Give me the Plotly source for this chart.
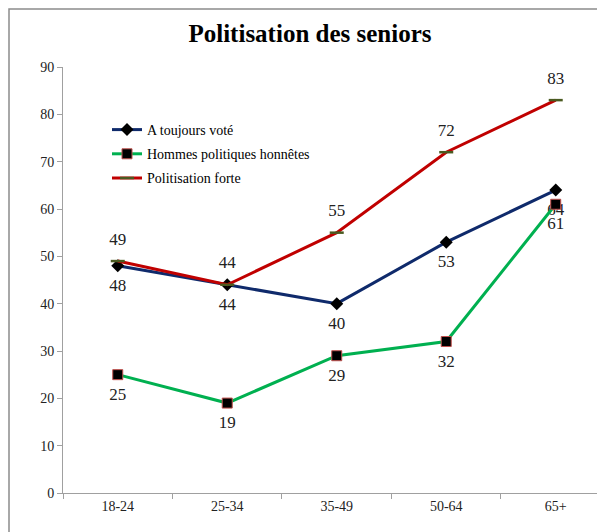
import plotly.graph_objects as go

categories = ["18-24", "25-34", "35-49", "50-64", "65+"]
toujours_vote = [48, 44, 40, 53, 64]
hommes_honnetes = [25, 19, 29, 32, 61]
politisation_forte = [49, 44, 55, 72, 83]
y_ticks = [0, 10, 20, 30, 40, 50, 60, 70, 80, 90]

SERIF = "Liberation Serif"

# The page has a default 8px body margin; size the figure to fit the window.
W, H = 597, 524
ML, MT, MB, MR = 55, 59, 39, 0
PW = W - ML - MR
PH = H - MT - MB

fig = go.Figure()

# Value labels (drawn first so the markers sit on top of them)
label_font = dict(family=SERIF, size=17, color="#222222")
for vals, pos in [(toujours_vote, "bottom center"),
                  (hommes_honnetes, "bottom center"),
                  (politisation_forte, "top center")]:
    fig.add_trace(go.Scatter(
        x=categories, y=vals, mode="markers+text", text=[str(v) for v in vals],
        textposition=pos, textfont=label_font,
        marker=dict(size=18, opacity=0), showlegend=False, hoverinfo="skip",
    ))

fig.add_trace(go.Scatter(
    x=categories, y=toujours_vote, name="A toujours voté",
    mode="lines+markers",
    line=dict(color="#0F2A6B", width=3),
    marker=dict(symbol="diamond", size=10, color="black"),
    legendgroup="a",
))
fig.add_trace(go.Scatter(
    x=categories, y=hommes_honnetes, name="Hommes politiques honnêtes",
    mode="lines+markers",
    line=dict(color="#00B050", width=3),
    marker=dict(symbol="square", size=10, color="black", line=dict(color="#C0504D", width=1)),
    legendgroup="b",
))
fig.add_trace(go.Scatter(
    x=categories, y=politisation_forte, name="Politisation forte",
    mode="lines+markers",
    line=dict(color="#C00000", width=3),
    marker=dict(symbol="line-ew", size=10, color="#4A5A20", line=dict(color="#4A5A20", width=2.5)),
    legendgroup="c",
))

fig.update_layout(
    width=W, height=H,
    margin=dict(l=ML, r=MR, t=MT, b=MB, autoexpand=False),
    paper_bgcolor="white", plot_bgcolor="white",
    title=dict(text="<b>Politisation des seniors</b>", x=(310 - 8) / W, xanchor="center",
               y=1 - 25 / H, yanchor="middle",
               font=dict(family=SERIF, size=25, color="black")),
    font=dict(family=SERIF, color="#222222"),
    showlegend=True,
    legend=dict(x=(107 - 63) / PW, y=1 - (47) / PH, xanchor="left", yanchor="top",
                bgcolor="rgba(0,0,0,0)", font=dict(family=SERIF, size=14, color="black"),
                tracegroupgap=3),
    xaxis=dict(
        type="category", range=[-0.5, 4.45], showgrid=False,
        showline=True, linecolor="#A0A0A0", linewidth=1,
        ticks="outside", tickson="boundaries", ticklen=5, tickcolor="#A0A0A0",
        tickfont=dict(family=SERIF, size=14, color="#222222"),
        zeroline=False, fixedrange=True,
    ),
    yaxis=dict(
        range=[0, 90], tickvals=y_ticks, showgrid=False,
        showline=True, linecolor="#A0A0A0", linewidth=1,
        ticks="outside", ticklen=5, tickcolor="#A0A0A0",
        tickfont=dict(family=SERIF, size=14, color="#222222"),
        zeroline=False, fixedrange=True,
    ),
    shapes=[dict(type="rect", xref="paper", yref="paper",
                 x0=-(ML - 1) / PW, x1=1.05, y0=-0.2, y1=1 + (MT - 1) / PH,
                 line=dict(color="#8C8C8C", width=1.5), fillcolor="rgba(0,0,0,0)", layer="below")],
)

fig.write_html("out.html")
